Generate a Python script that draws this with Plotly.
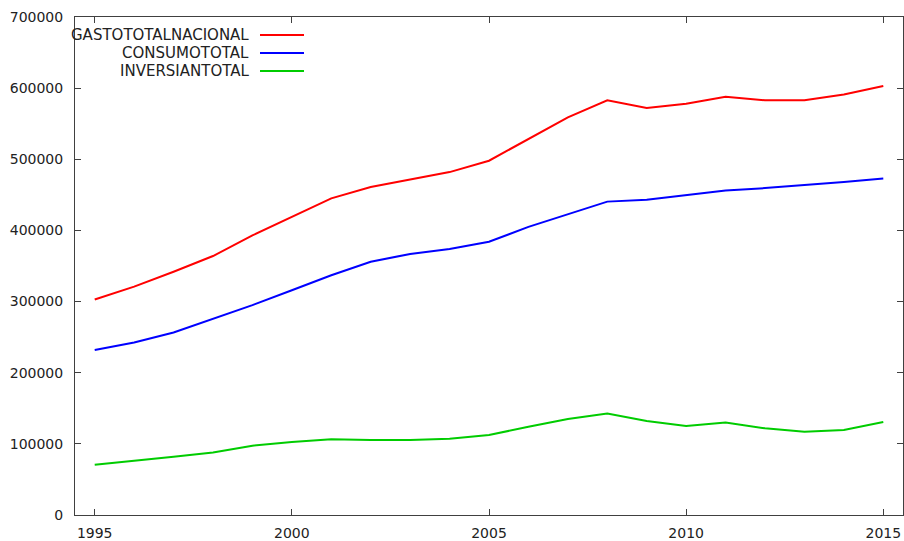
import plotly.graph_objects as go

years = list(range(1995, 2016))
gasto_total_nacional = [303000, 321000, 342000, 364000, 393000, 419000, 445000, 461000, 472000, 482000, 498000,
                        529000, 559000, 583000, 572000, 578000, 588000, 583000, 583000, 591000, 603000]
consumo_total = [232000, 242500, 256500, 276000, 295000, 316000, 337000, 356000, 367000, 374000, 384000,
                 405000, 422500, 440500, 443000, 450000, 456000, 459500, 463500, 468000, 473000]
inversion_total = [70500, 75800, 82000, 88000, 97500, 102600, 106500, 105500, 105500, 107300, 112400,
                   124000, 135000, 142500, 132000, 125000, 130000, 121800, 117000, 119500, 130700]

series_names = ["GASTOTOTALNACIONAL", "CONSUMOTOTAL", "INVERSIANTOTAL"]
series_values = [gasto_total_nacional, consumo_total, inversion_total]
series_colors = ["#ff0000", "#0000ff", "#00cc00"]

x_ticks = [1995, 2000, 2005, 2010, 2015]
y_ticks = [0, 100000, 200000, 300000, 400000, 500000, 600000, 700000]

W, H = 904, 541
ML, MR, MT, MB = 75, 1, 17, 26
PW, PH = W - ML - MR, H - MT - MB

fig = go.Figure()
for name, vals, col in zip(series_names, series_values, series_colors):
    fig.add_trace(go.Scatter(x=years, y=vals, mode="lines", name=name,
                             line=dict(color=col, width=2), showlegend=False))


def px_x(px):
    return (px - ML) / PW


def px_y(py):
    return (H - MB - py) / PH


# gnuplot-style legend: right-aligned text with line sample on the right
leg_text_x = 251
leg_line_x0, leg_line_x1 = 260, 304
leg_rows_y = [35, 53, 71]
for name, col, yy in zip(series_names, series_colors, leg_rows_y):
    fig.add_annotation(x=px_x(leg_text_x), y=px_y(yy), xref="paper", yref="paper",
                       text=name, showarrow=False, xanchor="right", yanchor="middle",
                       font=dict(family="DejaVu Sans", size=15, color="#222222"))
    fig.add_shape(type="line", xref="paper", yref="paper",
                  x0=px_x(leg_line_x0), x1=px_x(leg_line_x1), y0=px_y(yy), y1=px_y(yy),
                  line=dict(color=col, width=2))

axis_common = dict(showgrid=False, zeroline=False, showline=True, linecolor="#404040",
                   linewidth=1, mirror="ticks", ticks="inside", ticklen=6, tickcolor="#404040",
                   automargin=False,
                   tickfont=dict(family="DejaVu Sans", size=14, color="#222222"))

fig.update_layout(
    width=W, height=H,
    margin=dict(l=ML, r=MR, t=MT, b=MB),
    plot_bgcolor="white", paper_bgcolor="white",
    xaxis=dict(range=[1994.5, 2015.5], tickvals=x_ticks, ticktext=[str(v) for v in x_ticks],
               ticklabelstandoff=5, **axis_common),
    yaxis=dict(range=[0, 700000], tickvals=y_ticks, ticktext=[str(v) for v in y_ticks],
               ticklabelstandoff=8, **axis_common),
)

fig.write_html("out.html", config={"displayModeBar": False},
               post_script="document.body.style.margin='0';document.body.style.overflow='hidden';")
